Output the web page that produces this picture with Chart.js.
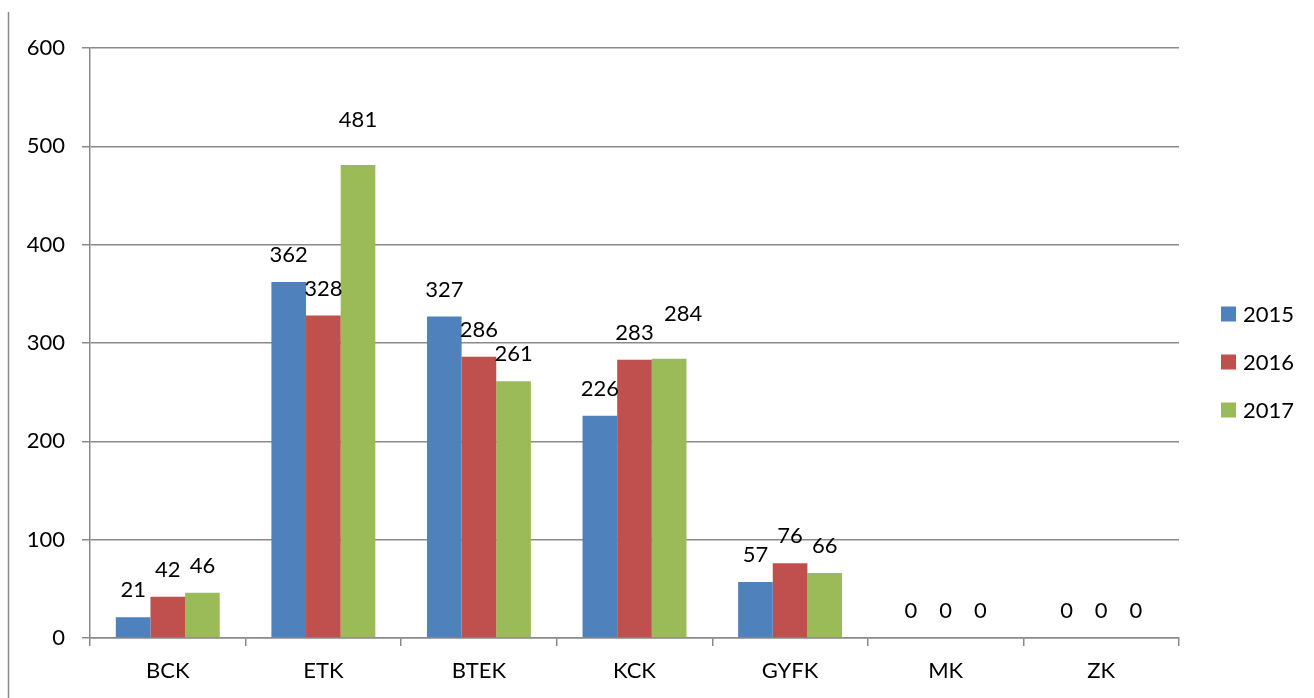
<!DOCTYPE html>
<html>
<head>
<meta charset="utf-8">
<script src="https://cdn.jsdelivr.net/npm/chart.js@4/dist/chart.umd.min.js"></script>
<style>
  html, body { margin: 0; padding: 0; background: #fff; }
  #wrap { width: 1314px; height: 698px; position: relative; }
</style>
</head>
<body>
<div id="wrap"><canvas id="chart"></canvas></div>
<script>
// data
const categories = ['BCK', 'ETK', 'BTEK', 'KCK', 'GYFK', 'MK', 'ZK'];
const years = ['2015', '2016', '2017'];
const values2015 = [21, 362, 327, 226, 57, 0, 0];
const values2016 = [42, 328, 286, 283, 76, 0, 0];
const values2017 = [46, 481, 261, 284, 66, 0, 0];
const yTicks = [0, 100, 200, 300, 400, 500, 600];

const colors = ['#4F81BD', '#C0504D', '#9BBB59'];
const gridColor = '#8a8a8a';
const fontFamily = 'Lato, "Open Sans", sans-serif';

// a couple of labels were dragged higher in the original
const labelShift = { '2,1': [0, -18], '2,3': [14, -18] };

const valueLabels = {
    id: 'valueLabels',
    afterDatasetsDraw(chart) {
        const ctx = chart.ctx;
        ctx.save();
        ctx.font = '22px ' + fontFamily;
        ctx.fillStyle = '#000';
        ctx.textAlign = 'center';
        ctx.textBaseline = 'middle';
        chart.data.datasets.forEach((ds, di) => {
            chart.getDatasetMeta(di).data.forEach((bar, i) => {
                const s = labelShift[di + ',' + i] || [0, 0];
                ctx.fillText(String(ds.data[i]), bar.x + s[0], bar.y - 27 + s[1]);
            });
        });
        ctx.restore();
    }
};

const sideLegend = {
    id: 'sideLegend',
    afterDraw(chart) {
        const ctx = chart.ctx;
        ctx.save();
        ctx.font = '22px ' + fontFamily;
        ctx.textBaseline = 'middle';
        ctx.fillStyle = '#000';
        chart.data.datasets.forEach((ds, i) => {
            const cy = 314 + i * 48;
            ctx.fillStyle = ds.backgroundColor;
            ctx.fillRect(1221, cy - 7.5, 15, 15);
            ctx.fillStyle = '#000';
            ctx.fillText(ds.label, 1243, cy + 1);
        });
        // frame line at the far left
        ctx.strokeStyle = gridColor;
        ctx.lineWidth = 1.5;
        ctx.beginPath();
        ctx.moveTo(8.5, 12);
        ctx.lineTo(8.5, 698);
        ctx.stroke();
        ctx.restore();
    }
};

const ctx = document.getElementById('chart').getContext('2d');
new Chart(ctx, {
    type: 'bar',
    data: {
        labels: categories,
        datasets: [
            { label: years[0], data: values2015, backgroundColor: colors[0] },
            { label: years[1], data: values2016, backgroundColor: colors[1] },
            { label: years[2], data: values2017, backgroundColor: colors[2] }
        ]
    },
    options: {
        responsive: true,
        maintainAspectRatio: false,
        animation: false,
        layout: { padding: { top: 48, right: 135, bottom: 0, left: 0 } },
        datasets: { bar: { categoryPercentage: 0.668, barPercentage: 1.0, borderWidth: 0 } },
        plugins: { legend: { display: false }, tooltip: { enabled: false } },
        scales: {
            x: {
                afterFit: s => { s.height = 60; },
                grid: { display: true, drawOnChartArea: false, offset: true, tickLength: 8, color: gridColor, lineWidth: 1.5 },
                border: { color: gridColor, width: 1.5 },
                ticks: { color: '#000', font: { family: fontFamily, size: 22 }, padding: 12 }
            },
            y: {
                min: 0,
                max: 600,
                afterFit: s => { s.width = 90; },
                afterBuildTicks: s => { s.ticks = yTicks.map(v => ({ value: v })); },
                grid: { color: gridColor, lineWidth: 1.5, tickLength: 8 },
                border: { color: gridColor, width: 1.5 },
                ticks: { color: '#000', font: { family: fontFamily, size: 22 }, padding: 17 }
            }
        }
    },
    plugins: [valueLabels, sideLegend]
});
</script>
</body>
</html>
